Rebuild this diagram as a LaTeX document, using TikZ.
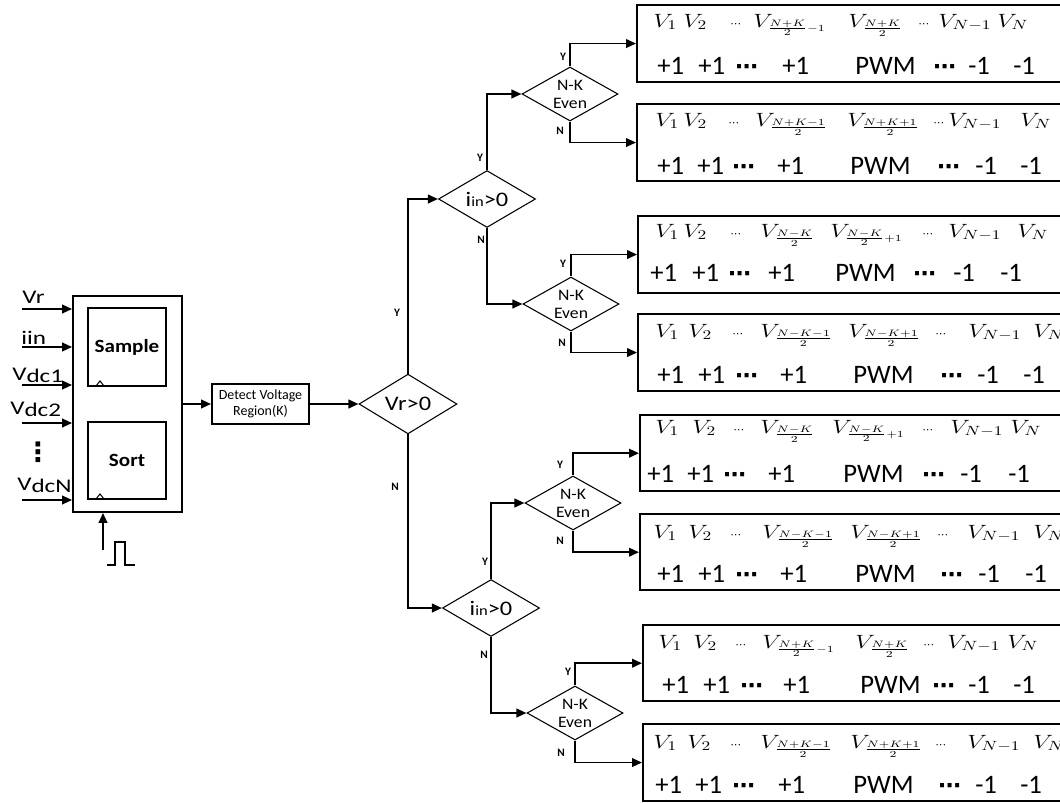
\documentclass[tikz,border=0pt]{standalone}
\usepackage[no-math]{fontspec}
\setmainfont{Carlito}
\newfontfamily\dejavu{DejaVu Sans}
\usetikzlibrary{shapes.geometric,arrows.meta}
\newcommand\dts{{\dejavu\bfseries\fontsize{17}{17}\selectfont ⋯}}
\newcommand\sm[1]{\scalebox{1.3}[1]{$#1$}}
\newcommand\toprow[5]{%
  \foreach \x [count=\i] in {#3} {
    \node[mrow] (#1t\i) at (\x,#2) {\ifcase\i\or\sm{V_1}\or\sm{V_2}\or$\scriptstyle\cdots$\or\sm{#4}\or\sm{#5}\or$\scriptstyle\cdots$\or\sm{V_{N-1}}\or\sm{V_N}\fi};
  }}
\newcommand\botrow[3]{%
  \foreach \x [count=\i] in {#3} {
    \node[brow] (#1b\i) at (\x,#2) {\ifcase\i\or+1\or+1\or\dts\or+1\or PWM\or\dts\or-1\or-1\fi};
  }}
\begin{document}
\begin{tikzpicture}[x=0.75pt,y=-0.75pt,
  ln/.style={line width=1.4pt},
  arr/.style={ln,-{Triangle[length=7.5pt,width=6.5pt]}},
  blk/.style={draw,line width=1.4pt,inner sep=0},
  dia/.style={diamond,draw,line width=0.8pt,inner sep=0},
  obox/.style={draw,line width=1.8pt,anchor=north west,minimum width=335pt,minimum height=57.5pt,inner sep=0},
  mrow/.style={anchor=base west,inner sep=0,font=\fontsize{14.4}{17}\selectfont},
  brow/.style={anchor=base west,inner sep=0,font=\fontsize{20}{22}\selectfont},
  yn/.style={inner sep=0,font=\fontsize{8.5}{10}\selectfont\bfseries},
  inl/.style={anchor=base west,inner sep=0,font=\fontsize{14.5}{17}\selectfont}]
\useasboundingbox (0,0) rectangle (1060,803);
\clip (0,0) rectangle (1060,803);

% ---------- input block ----------
\node[blk,minimum width=81.75pt,minimum height=162pt] (sys) at (127.5,404) {};
\node[blk,minimum width=58.5pt,minimum height=58.5pt,font=\fontsize{14}{16}\selectfont\bfseries] (smp) at (127,347) {\scalebox{1.13}[1]{Sample}};
\node[blk,minimum width=58.5pt,minimum height=57.75pt,font=\fontsize{14}{16}\selectfont\bfseries] (srt) at (127,460.5) {\scalebox{1.13}[1]{Sort}};
\draw[line width=0.8pt] (96,386) -- (100,381) -- (104,386);
\draw[line width=0.8pt] (96,499) -- (100,494) -- (104,499);

\node[inl] (lvr) at (22,303) {\scalebox{1.3}[1]{Vr}};
\node[inl] (lii) at (21,344) {\scalebox{1.3}[1]{iin}};
\node[inl] (lv1) at (12,380) {\scalebox{1.3}[1]{V\raisebox{-2.2pt}{dc1}}};
\node[inl] (lv2) at (10,414) {\scalebox{1.3}[1]{V\raisebox{-2.2pt}{dc2}}};
\node[inl] (lvn) at (17,490) {\scalebox{1.3}[1]{V\raisebox{-2.2pt}{dcN}}};
\node[inner sep=0,font=\dejavu\bfseries\fontsize{20}{20}\selectfont] (vd) at (38,452) {⋮};

\coordinate (i1) at (22,309);
\coordinate (i2) at (22,347);
\coordinate (i3) at (22,385);
\coordinate (i4) at (22,423);
\coordinate (i5) at (22,500);
\foreach \c in {i1,i2,i3,i4,i5} \draw[arr] (\c) -- (\c -| sys.west);

\coordinate (clk) at (103,550);
\draw[arr] (clk) -- (clk |- sys.south);
\draw[ln] (107,565) -- (115,565) -- (115,542) -- (125,542) -- (125,565) -- (135,565);

% ---------- detect ----------
\node[blk,minimum width=72.75pt,minimum height=30pt,align=center,font=\fontsize{10.5}{12.5}\selectfont] (det) at (260.5,404) {Detect Voltage\\Region(K)};
\draw[arr] (sys.east) -- (det.west);

% ---------- decisions ----------
\node[dia,minimum width=73.5pt,minimum height=31.5pt,font=\fontsize{15.5}{17}\selectfont] (vr) at (408,404) {\scalebox{1.18}[1]{Vr>0}};
\draw[arr] (det.east) -- (vr.west);

\node[dia,minimum width=72.75pt,minimum height=31.5pt,font=\fontsize{15.5}{17}\selectfont] (ia) at (487,199) {\scalebox{1.18}[1]{i{\fontsize{10.5}{12}\selectfont in}>0}};
\node[dia,minimum width=72.75pt,minimum height=31.5pt,font=\fontsize{15.5}{17}\selectfont] (ib) at (491,608) {\scalebox{1.18}[1]{i{\fontsize{10.5}{12}\selectfont in}>0}};

\tikzset{nk/.style={dia,minimum width=72pt,minimum height=40.5pt,align=center,font=\fontsize{12}{13.5}\selectfont,shape aspect=1.8}}
\node[nk] (n1) at (570,94) {\scalebox{1.1}[1]{N-K}\\\scalebox{1.1}[1]{Even}};
\node[nk] (n2) at (571,304) {\scalebox{1.1}[1]{N-K}\\\scalebox{1.1}[1]{Even}};
\node[nk] (n3) at (573,503) {\scalebox{1.1}[1]{N-K}\\\scalebox{1.1}[1]{Even}};
\node[nk] (n4) at (575,713) {\scalebox{1.1}[1]{N-K}\\\scalebox{1.1}[1]{Even}};

% ---------- output boxes ----------
\node[obox] (o1) at (636,4) {};
\node[obox] (o2) at (636,103) {};
\node[obox] (o3) at (637,215) {};
\node[obox] (o4) at (637,313) {};
\node[obox,minimum height=57pt] (o5) at (639,414) {};
\node[obox,minimum height=57pt] (o6) at (639,513) {};
\node[obox,minimum height=57pt] (o7) at (642,624) {};
\node[obox] (o8) at (642,723) {};

% ---------- connectors ----------
\draw[arr] (vr.north) |- (ia.west);
\draw[arr] (vr.south) |- (ib.west);
\draw[arr] (ia.north) |- (n1.west);
\draw[arr] (ia.south) |- (n2.west);
\draw[arr] (ib.north) |- (n3.west);
\draw[arr] (ib.south) |- (n4.west);
\draw[arr] (n1.north) |- (o1.west);
\draw[arr] (n1.south) |- (o2.west);
\draw[arr] (n2.north) |- (o3.west);
\draw[arr] (n2.south) |- (o4.west);
\draw[arr] (n3.north) |- (o5.west);
\draw[arr] (n3.south) |- (o6.west);
\draw[arr] (n4.north) |- (o7.west);
\draw[arr] (n4.south) |- (o8.west);

% ---------- Y/N labels ----------
\node[yn] (y0) at (397,313) {Y};
\node[yn] (m0) at (395,487) {N};
\node[yn] (y1) at (480,158) {Y};
\node[yn] (m1) at (481,240) {N};
\node[yn] (y2) at (485,562) {Y};
\node[yn] (m2) at (484,655) {N};
\node[yn] (y3) at (563,57) {Y};
\node[yn] (m3) at (560,131) {N};
\node[yn] (y4) at (563,264) {Y};
\node[yn] (m4) at (562,343) {N};
\node[yn] (y5) at (560,465) {Y};
\node[yn] (m5) at (560,541) {N};
\node[yn] (y6) at (568,672) {Y};
\node[yn] (m6) at (561,753) {N};

% ---------- box contents ----------
\toprow{a}{27}{653,683,730,753,848,918,938,997}{V_{\scriptscriptstyle\frac{N+K}{2}-1}}{V_{\frac{N+K}{2}}}
\botrow{a}{74}{657,698,735,782,855,933,968,1013}
\toprow{b}{126}{655,683,728,755,847,933,948,1020}{V_{\frac{N+K-1}{2}}}{V_{\frac{N+K+1}{2}}}
\botrow{b}{174}{657,697,732,777,850,937,975,1020}
\toprow{c}{237}{655,683,730,760,830,922,948,1017}{V_{\frac{N-K}{2}}}{V_{\scriptscriptstyle\frac{N-K}{2}+1}}
\botrow{c}{281}{650,692,728,768,835,913,953,1000}
\toprow{d}{337}{655,688,732,760,848,935,968,1033}{V_{\frac{N-K-1}{2}}}{V_{\frac{N-K+1}{2}}}
\botrow{d}{383}{657,698,735,780,853,940,977,1023}
\toprow{e}{433}{655,692,733,760,832,922,950,1010}{V_{\frac{N-K}{2}}}{V_{\scriptscriptstyle\frac{N-K}{2}+1}}
\botrow{e}{482}{647,687,723,768,843,922,960,1008}
\toprow{f}{538}{653,688,730,762,850,937,967,1033}{V_{\frac{N-K-1}{2}}}{V_{\frac{N-K+1}{2}}}
\botrow{f}{582}{657,698,735,780,855,940,978,1025}
\toprow{g}{648}{658,693,735,762,855,923,947,1007}{V_{\scriptscriptstyle\frac{N+K}{2}-1}}{V_{\frac{N+K}{2}}}
\botrow{g}{693}{662,703,740,783,860,932,968,1013}
\toprow{h}{748}{653,687,730,760,850,935,967,1033}{V_{\frac{N+K-1}{2}}}{V_{\frac{N+K+1}{2}}}
\botrow{h}{793}{655,695,732,778,853,938,975,1020}
\end{tikzpicture}
\end{document}
